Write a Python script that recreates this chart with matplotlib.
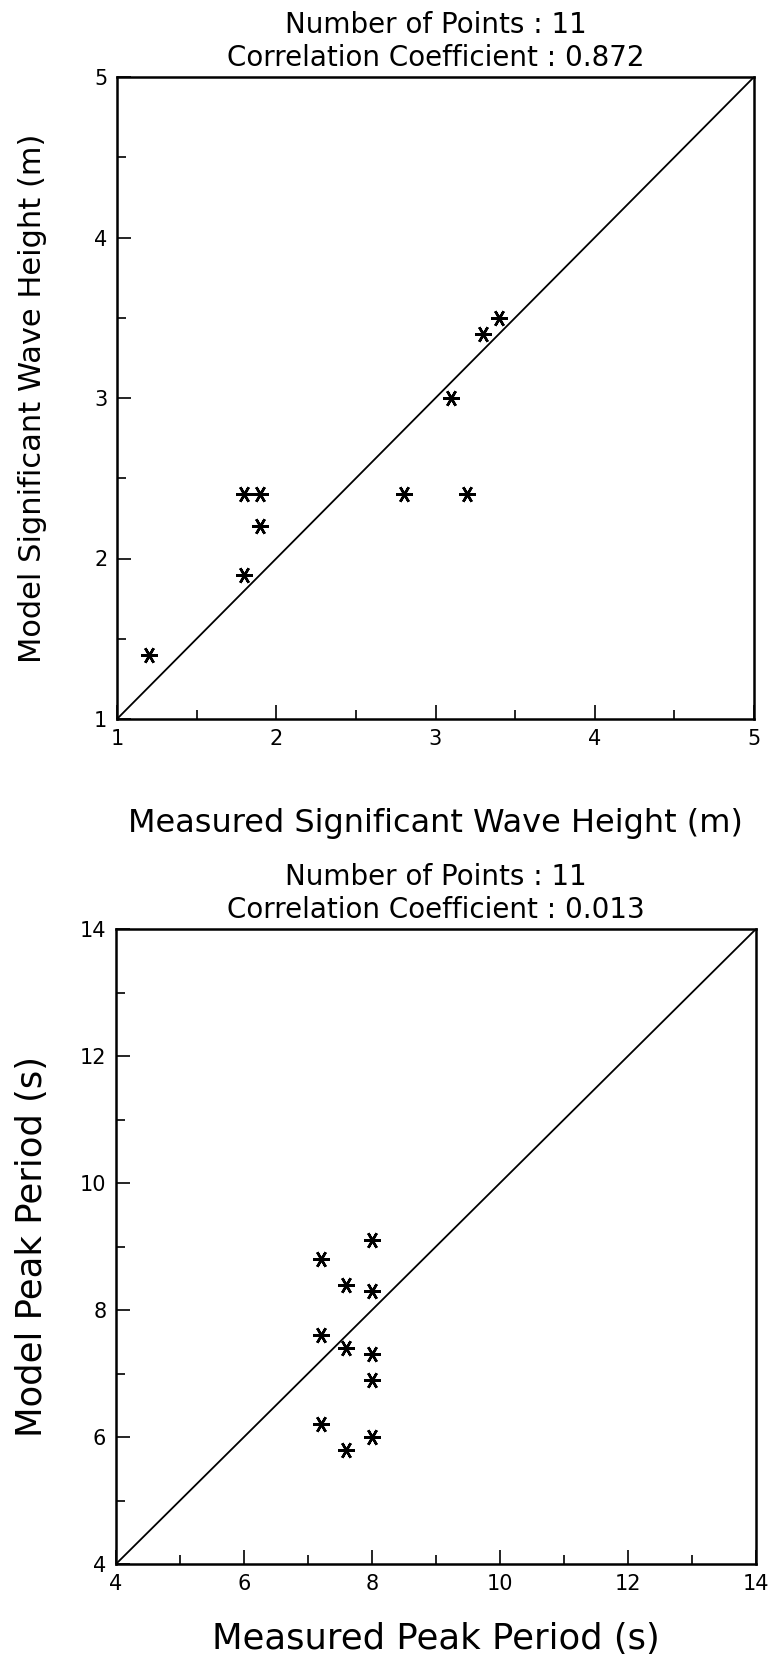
import numpy as np
import matplotlib
matplotlib.use('Agg')
import matplotlib.pyplot as plt
from matplotlib.ticker import MultipleLocator

# Datos
hs_medida = [1.2, 1.8, 1.8, 1.9, 1.9, 2.8, 3.2, 3.1, 3.3, 3.4]
hs_modelo = [1.4, 1.9, 2.4, 2.4, 2.2, 2.4, 2.4, 3.0, 3.4, 3.5]

tp_medida = [8.0, 7.2, 7.6, 8.0, 7.2, 7.6, 8.0, 8.0, 7.2, 8.0, 7.6]
tp_modelo = [9.1, 8.8, 8.4, 8.3, 7.6, 7.4, 7.3, 6.9, 6.2, 6.0, 5.8]

titulo_hs = 'Number of Points : 11\nCorrelation Coefficient : 0.872'
titulo_tp = 'Number of Points : 11\nCorrelation Coefficient : 0.013'

plt.rcParams['font.family'] = 'DejaVu Sans'

fig = plt.figure(figsize=(7.68, 16.61), dpi=100)
W, H = 768, 1661

def caja(x0, y0, x1, y1):
    return [x0 / W, 1 - y1 / H, (x1 - x0) / W, (y1 - y0) / H]

ax1 = fig.add_axes(caja(117, 77, 754, 719))
ax2 = fig.add_axes(caja(116, 929, 756, 1564))

def formato(ax, lim, mayor, menor, titulo, xlab, ylab, fs_lab, xpos, ypos):
    ax.set_xlim(lim)
    ax.set_ylim(lim)
    ax.plot(lim, lim, color='black', lw=1.3)
    ax.xaxis.set_major_locator(MultipleLocator(mayor))
    ax.xaxis.set_minor_locator(MultipleLocator(menor))
    ax.yaxis.set_major_locator(MultipleLocator(mayor))
    ax.yaxis.set_minor_locator(MultipleLocator(menor))
    ax.tick_params(which='both', direction='in', top=False, right=False,
                   width=1.2, labelsize=15, colors='black')
    ax.tick_params(which='major', length=10, pad=7)
    ax.tick_params(which='minor', length=6.5)
    for s in ax.spines.values():
        s.set_linewidth(1.8)
    ax.set_title(titulo, fontsize=20, pad=8, linespacing=1.2)
    ax.set_xlabel(xlab, fontsize=fs_lab[0])
    ax.set_ylabel(ylab, fontsize=fs_lab[1])
    ax.xaxis.set_label_coords(0.5, xpos)
    ax.xaxis.label.set_va('center')
    ax.yaxis.set_label_coords(ypos, 0.5)
    ax.yaxis.label.set_va('center')

ax1.plot(hs_medida, hs_modelo, linestyle='none', marker=(6, 2, 30),
         markersize=12, markeredgewidth=1.8, color='black')
formato(ax1, [1, 5], 1, 0.5, titulo_hs,
        'Measured Significant Wave Height (m)',
        'Model Significant Wave Height (m)',
        (23, 22), -0.162, -0.133)

ax2.plot(tp_medida, tp_modelo, linestyle='none', marker=(6, 2, 30),
         markersize=12, markeredgewidth=1.8, color='black')
formato(ax2, [4, 14], 2, 1, titulo_tp,
        'Measured Peak Period (s)',
        'Model Peak Period (s)',
        (25.5, 25.5), -0.118, -0.131)

fig.savefig('out.png', dpi=100)
